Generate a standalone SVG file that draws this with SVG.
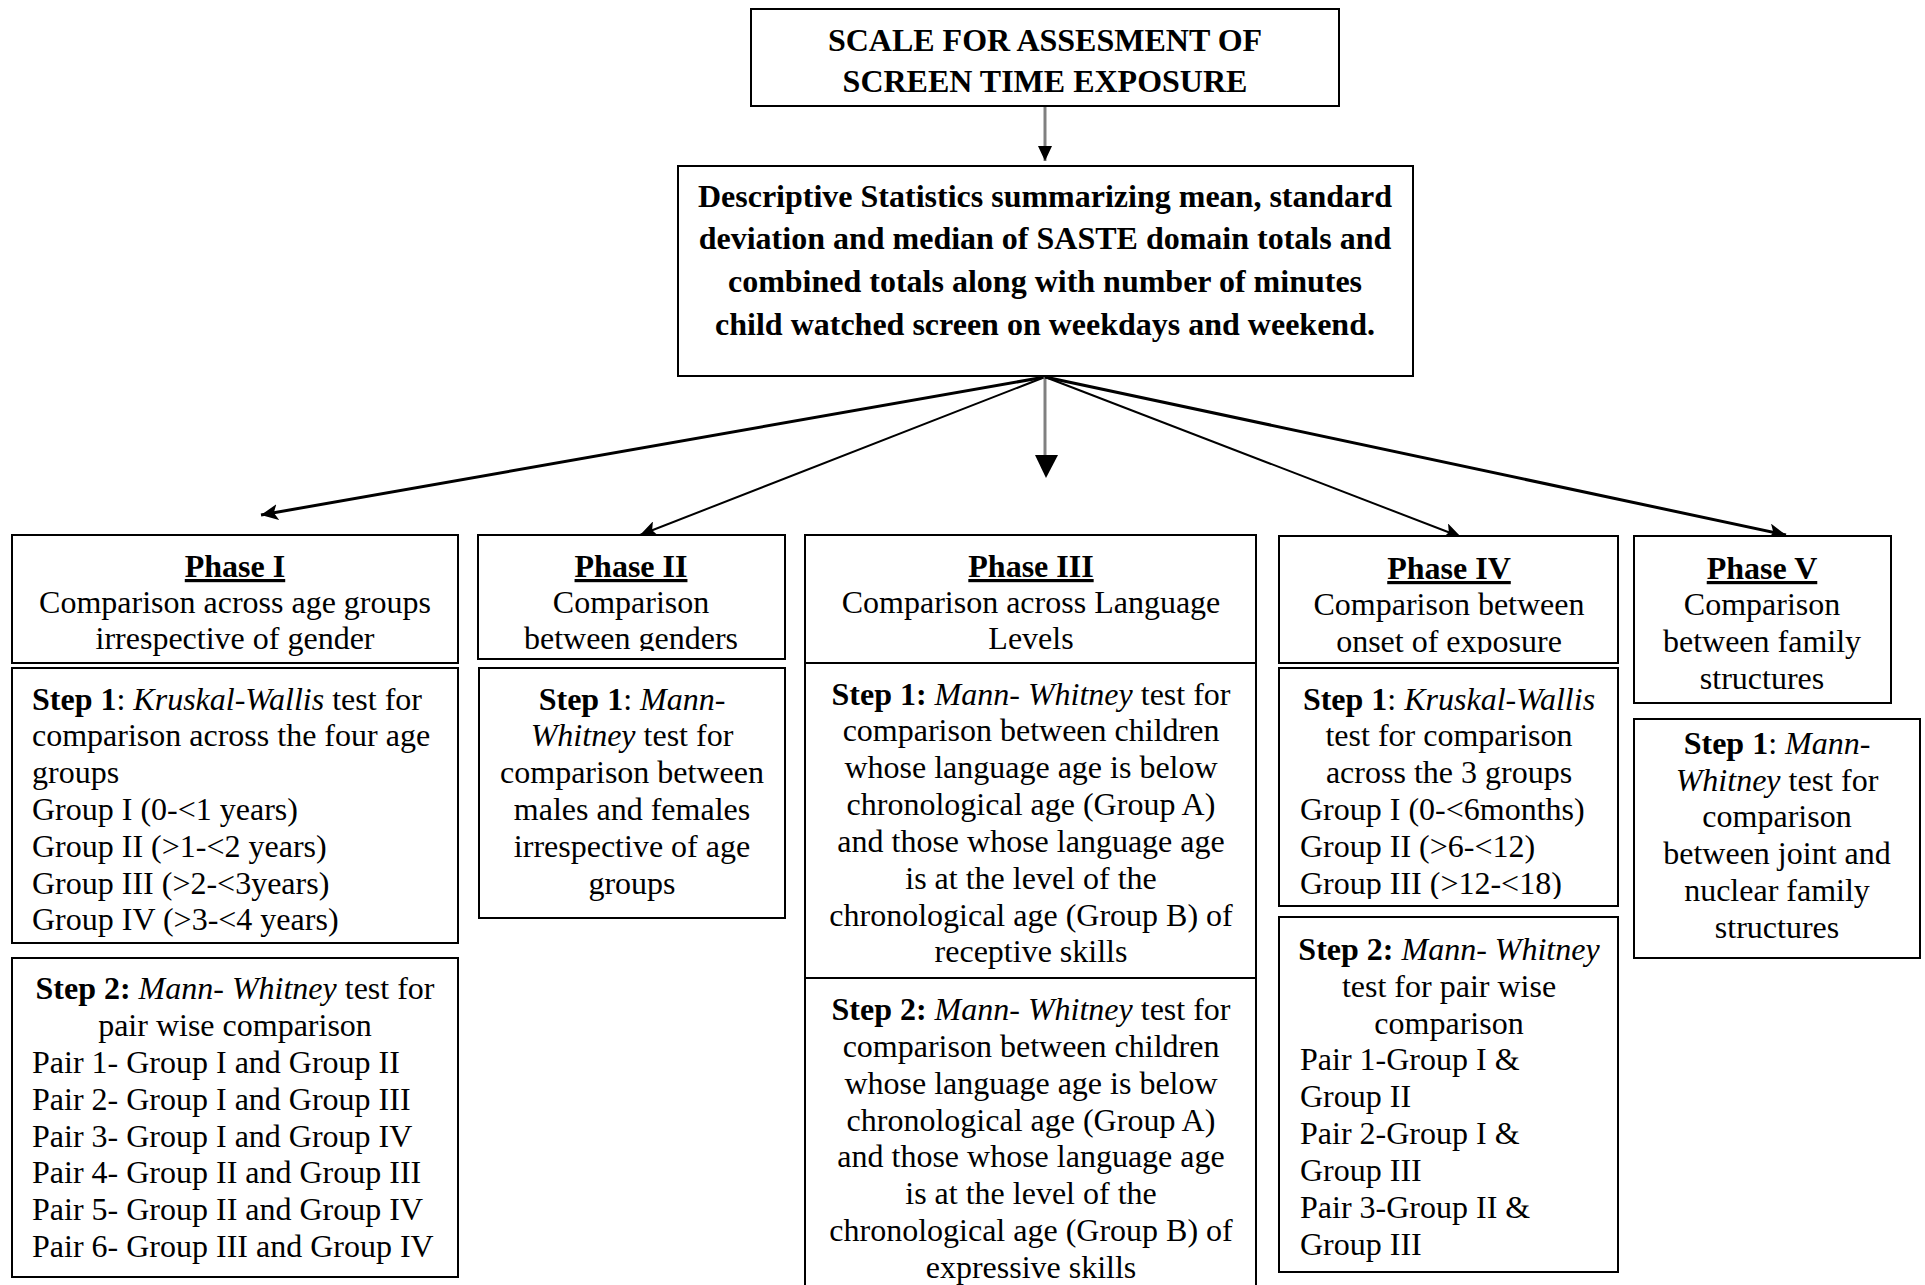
<svg xmlns="http://www.w3.org/2000/svg" width="1925" height="1285" viewBox="0 0 1925 1285">
<style>
.box{fill:#fff;stroke:#000;stroke-width:2}
.t{font-family:"Liberation Serif","Times New Roman",serif;font-size:32px;fill:#000}
.c{text-anchor:middle}
.b{font-weight:bold}
.i{font-style:italic}
.h{font-weight:bold;text-decoration:underline}
.conn{fill:none;stroke:#000}
.gray{stroke:#808080;stroke-width:3}
</style>
<defs>
<marker id="ah" markerUnits="userSpaceOnUse" markerWidth="18" markerHeight="16" refX="17" refY="8" orient="auto">
<path d="M0,0 L17,8 L0,16 L4,8 Z" fill="#000"/>
</marker>
<marker id="ahs" markerUnits="userSpaceOnUse" markerWidth="16" markerHeight="14" refX="15" refY="7" orient="auto">
<path d="M0,0 L15,7 L0,14 Z" fill="#000"/>
</marker>
<clipPath id="clipP2"><rect x="478" y="535" width="307" height="116"/></clipPath>
<clipPath id="clipP4"><rect x="1279" y="536" width="339" height="118"/></clipPath>
<clipPath id="clipP4s1"><rect x="1279" y="668" width="339" height="231"/></clipPath>
</defs>

<g id="connectors">
<line class="conn gray" x1="1045" y1="106" x2="1045" y2="161" marker-end="url(#ahs)"/>
<line class="conn" x1="1045" y1="377" x2="261" y2="515" stroke-width="3" marker-end="url(#ah)"/>
<line class="conn" x1="1045" y1="377" x2="640" y2="535" stroke-width="2" marker-end="url(#ah)"/>
<line class="conn gray" x1="1045" y1="377" x2="1045" y2="462"/>
<path d="M1035,455 L1058,455 L1046,478 Z" fill="#000"/>
<line class="conn" x1="1045" y1="377" x2="1461" y2="537" stroke-width="2" marker-end="url(#ah)"/>
<line class="conn" x1="1045" y1="377" x2="1786" y2="535" stroke-width="3" marker-end="url(#ah)"/>
</g>

<g id="title">
<rect class="box" x="751" y="9" width="588" height="97" stroke-width="2.5"/>
<text class="t c b" x="1045" y="51">SCALE FOR ASSESMENT OF</text>
<text class="t c b" x="1045" y="92">SCREEN TIME EXPOSURE</text>
</g>

<g id="descriptive">
<rect class="box" x="678" y="166" width="735" height="210" stroke-width="2.5"/>
<text class="t c b" x="1045" y="207">Descriptive Statistics summarizing mean, standard</text>
<text class="t c b" x="1045" y="249">deviation and median of SASTE domain totals and</text>
<text class="t c b" x="1045" y="292">combined totals along with number of minutes</text>
<text class="t c b" x="1045" y="335">child watched screen on weekdays and weekend.</text>
</g>

<g id="phase1">
<rect class="box" x="12" y="535" width="446" height="128"/>
<text class="t c h" x="235" y="577">Phase I</text>
<text class="t c" x="235" y="613">Comparison across age groups</text>
<text class="t c" x="235" y="649">irrespective of gender</text>
</g>
<g id="phase1-step1">
<rect class="box" x="12" y="668" width="446" height="275"/>
<text class="t" x="32" y="710"><tspan class="b">Step 1</tspan>: <tspan class="i">Kruskal-Wallis</tspan> test for</text>
<text class="t" x="32" y="746">comparison across the four age</text>
<text class="t" x="32" y="783">groups</text>
<text class="t" x="32" y="820">Group I (0-&lt;1 years)</text>
<text class="t" x="32" y="857">Group II (&gt;1-&lt;2 years)</text>
<text class="t" x="32" y="894">Group III (&gt;2-&lt;3years)</text>
<text class="t" x="32" y="930">Group IV (&gt;3-&lt;4 years)</text>
</g>
<g id="phase1-step2">
<rect class="box" x="12" y="958" width="446" height="319"/>
<text class="t c" x="235" y="999"><tspan class="b">Step 2:</tspan> <tspan class="i">Mann- Whitney</tspan> test for</text>
<text class="t c" x="235" y="1036">pair wise comparison</text>
<text class="t" x="32" y="1073">Pair 1- Group I and Group II</text>
<text class="t" x="32" y="1110">Pair 2- Group I and Group III</text>
<text class="t" x="32" y="1147">Pair 3- Group I and Group IV</text>
<text class="t" x="32" y="1183">Pair 4- Group II and Group III</text>
<text class="t" x="32" y="1220">Pair 5- Group II and Group IV</text>
<text class="t" x="32" y="1257">Pair 6- Group III and Group IV</text>
</g>

<g id="phase2">
<rect class="box" x="478" y="535" width="307" height="124"/>
<g clip-path="url(#clipP2)">
<text class="t c h" x="631" y="577">Phase II</text>
<text class="t c" x="631" y="613">Comparison</text>
<text class="t c" x="631" y="649">between genders</text>
</g>
</g>
<g id="phase2-step1">
<rect class="box" x="479" y="668" width="306" height="250"/>
<text class="t c" x="632" y="710"><tspan class="b">Step 1</tspan>: <tspan class="i">Mann-</tspan></text>
<text class="t c" x="632" y="746"><tspan class="i">Whitney</tspan> test for</text>
<text class="t c" x="632" y="783">comparison between</text>
<text class="t c" x="632" y="820">males and females</text>
<text class="t c" x="632" y="857">irrespective of age</text>
<text class="t c" x="632" y="894">groups</text>
</g>

<g id="phase3">
<rect class="box" x="805" y="535" width="451" height="770"/>
<line x1="805" y1="663" x2="1256" y2="663" stroke="#000" stroke-width="2"/>
<line x1="805" y1="978" x2="1256" y2="978" stroke="#000" stroke-width="2"/>
<text class="t c h" x="1031" y="577">Phase III</text>
<text class="t c" x="1031" y="613">Comparison across Language</text>
<text class="t c" x="1031" y="649">Levels</text>
</g>
<g id="phase3-step1">
<text class="t c" x="1031" y="705"><tspan class="b">Step 1:</tspan> <tspan class="i">Mann- Whitney</tspan> test for</text>
<text class="t c" x="1031" y="741">comparison between children</text>
<text class="t c" x="1031" y="778">whose language age is below</text>
<text class="t c" x="1031" y="815">chronological age (Group A)</text>
<text class="t c" x="1031" y="852">and those whose language age</text>
<text class="t c" x="1031" y="889">is at the level of the</text>
<text class="t c" x="1031" y="926">chronological age (Group B) of</text>
<text class="t c" x="1031" y="962">receptive skills</text>
</g>
<g id="phase3-step2">
<text class="t c" x="1031" y="1020"><tspan class="b">Step 2:</tspan> <tspan class="i">Mann- Whitney</tspan> test for</text>
<text class="t c" x="1031" y="1057">comparison between children</text>
<text class="t c" x="1031" y="1094">whose language age is below</text>
<text class="t c" x="1031" y="1131">chronological age (Group A)</text>
<text class="t c" x="1031" y="1167">and those whose language age</text>
<text class="t c" x="1031" y="1204">is at the level of the</text>
<text class="t c" x="1031" y="1241">chronological age (Group B) of</text>
<text class="t c" x="1031" y="1278">expressive skills</text>
</g>

<g id="phase4">
<rect class="box" x="1279" y="536" width="339" height="127"/>
<g clip-path="url(#clipP4)">
<text class="t c h" x="1449" y="579">Phase IV</text>
<text class="t c" x="1449" y="615">Comparison between</text>
<text class="t c" x="1449" y="652">onset of exposure</text>
</g>
</g>
<g id="phase4-step1">
<rect class="box" x="1279" y="668" width="339" height="238"/>
<g clip-path="url(#clipP4s1)">
<text class="t c" x="1449" y="710"><tspan class="b">Step 1</tspan>: <tspan class="i">Kruskal-Wallis</tspan></text>
<text class="t c" x="1449" y="746">test for comparison</text>
<text class="t c" x="1449" y="783">across the 3 groups</text>
<text class="t" x="1300" y="820">Group I (0-&lt;6months)</text>
<text class="t" x="1300" y="857">Group II (&gt;6-&lt;12)</text>
<text class="t" x="1300" y="894">Group III (&gt;12-&lt;18)</text>
</g>
</g>
<g id="phase4-step2">
<rect class="box" x="1279" y="917" width="339" height="355"/>
<text class="t c" x="1449" y="960"><tspan class="b">Step 2:</tspan> <tspan class="i">Mann- Whitney</tspan></text>
<text class="t c" x="1449" y="997">test for pair wise</text>
<text class="t c" x="1449" y="1034">comparison</text>
<text class="t" x="1300" y="1070">Pair 1-Group I &amp;</text>
<text class="t" x="1300" y="1107">Group II</text>
<text class="t" x="1300" y="1144">Pair 2-Group I &amp;</text>
<text class="t" x="1300" y="1181">Group III</text>
<text class="t" x="1300" y="1218">Pair 3-Group II &amp;</text>
<text class="t" x="1300" y="1255">Group III</text>
</g>

<g id="phase5">
<rect class="box" x="1634" y="536" width="257" height="167"/>
<text class="t c h" x="1762" y="579">Phase V</text>
<text class="t c" x="1762" y="615">Comparison</text>
<text class="t c" x="1762" y="652">between family</text>
<text class="t c" x="1762" y="689">structures</text>
</g>
<g id="phase5-step1">
<rect class="box" x="1634" y="719" width="286" height="239"/>
<text class="t c" x="1777" y="754"><tspan class="b">Step 1</tspan>: <tspan class="i">Mann-</tspan></text>
<text class="t c" x="1777" y="791"><tspan class="i">Whitney</tspan> test for</text>
<text class="t c" x="1777" y="827">comparison</text>
<text class="t c" x="1777" y="864">between joint and</text>
<text class="t c" x="1777" y="901">nuclear family</text>
<text class="t c" x="1777" y="938">structures</text>
</g>
</svg>
